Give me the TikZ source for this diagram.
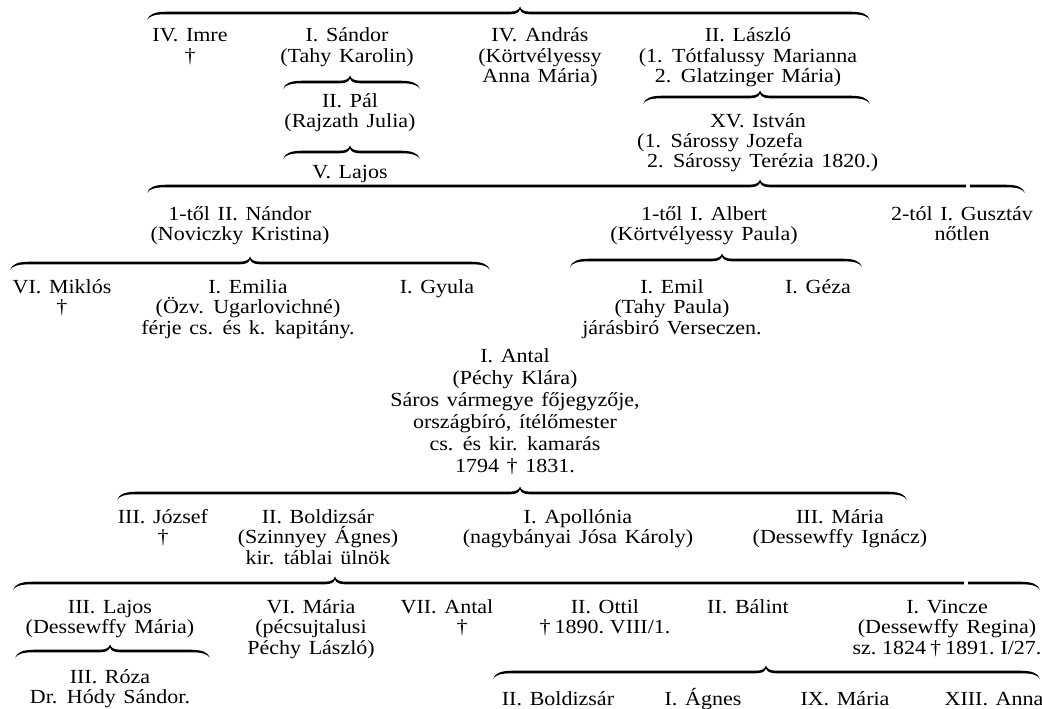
\documentclass[tikz,border=0pt]{standalone}
\usepackage{fontspec}
\setmainfont{Liberation Serif}[FakeStretch=1.1,WordSpace=1.4]

% family brace: left end, tip, right end, height of the bar
\newcommand{\famb}[4]{%
  \fill ({#1},{#4+7}) .. controls ({#1+2},{#4+1}) and ({#1+8},{#4-1.3}) .. ({#1+20},{#4-1.3})
    -- ({#2-10},{#4-1.3}) .. controls ({#2-4},{#4-1.5}) and ({#2-1},{#4-3}) .. ({#2},{#4-6.5})
    .. controls ({#2+1},{#4-3}) and ({#2+4},{#4-1.5}) .. ({#2+10},{#4-1.3})
    -- ({#3-20},{#4-1.3}) .. controls ({#3-8},{#4-1.3}) and ({#3-2},{#4+1}) .. ({#3},{#4+7})
    .. controls ({#3-3},{#4+2.2}) and ({#3-9},{#4+1.3}) .. ({#3-20},{#4+1.3})
    -- ({#2+10},{#4+1.3}) .. controls ({#2+4},{#4+1.3}) and ({#2+1},{#4-0.5}) .. ({#2},{#4-3.5})
    .. controls ({#2-1},{#4-0.5}) and ({#2-4},{#4+1.3}) .. ({#2-10},{#4+1.3})
    -- ({#1+20},{#4+1.3}) .. controls ({#1+9},{#4+1.3}) and ({#1+3},{#4+2.2}) .. ({#1},{#4+7}) -- cycle;}
% tightly set dates
\newcommand{\tight}[1]{{\spaceskip=0.2em\relax #1}}

\begin{document}
\begin{tikzpicture}[x=1pt,y=-1pt,
    person/.style={align=center,anchor=base,inner sep=0pt,font=\fontsize{20}{20.5}\selectfont},
    lines2/.style={yshift=-20.5pt},
    lines3/.style={yshift=-41pt},
    longer/.style={person,font=\fontsize{20}{22}\selectfont,yshift=-110pt}]
\useasboundingbox (0,0) rectangle (1042,709);

% first generation
\famb{147}{520}{870}{13}
\node[person,lines2] (imre) at (190,42) {IV. Imre\\†};
\node[person,lines2] (sandor) at (347,42) {I. Sándor\\(Tahy Karolin)};
\node[person,lines3] (andras) at (540,42) {IV. András\\(Körtvélyessy\\Anna Mária)};
\node[person,lines3] (laszlo) at (748,42) {II. László\\(1. Tótfalussy Marianna\\2. Glatzinger Mária)};

\famb{283}{350}{420}{82}
\node[person,lines2] (pal) at (350,107) {II. Pál\\(Rajzath Julia)};
\famb{283}{350}{420}{152}
\node[person] (lajosv) at (350,178) {V. Lajos};

\famb{643}{760}{870}{97}
\node[person] (istvan) at (758,127) {XV. István};
\node[person,lines2,align=left,anchor=base west] (istvanw) at (637,147)
    {(1. Sárossy Jozefa\\\hspace*{0.5em}2. Sárossy Terézia 1820.)};

% children of István
\famb{147}{760}{1025}{186}
\fill[white] (966,181) rectangle (970,191);
\node[person,lines2] (nandor) at (240,220) {1-től II. Nándor\\(Noviczky Kristina)};
\node[person,lines2] (albert) at (704,220) {1-től I. Albert\\(Körtvélyessy Paula)};
\node[person,lines2] (gusztav) at (962,220) {2-tól I. Gusztáv\\nőtlen};

\famb{10}{250}{490}{263}
\node[person,lines2] (miklos) at (62,293) {VI. Miklós\\†};
\node[person,lines3] (emilia) at (248,293) {I. Emilia\\(Özv. Ugarlovichné)\\férje cs. és k. kapitány.};
\node[person] (gyula) at (437,293) {I. Gyula};

\famb{570}{722}{862}{260}
\node[person,lines3] (emil) at (672,293) {I. Emil\\(Tahy Paula)\\járásbiró Verseczen.};
\node[person] (geza) at (818,293) {I. Géza};

% I. Antal and his line
\node[longer] (antal) at (515,362) {I. Antal\\(Péchy Klára)\\Sáros vármegye főjegyzője,\\országbíró, ítélőmester\\cs. és kir. kamarás\\1794 † 1831.};

\famb{117}{520}{907}{493}
\node[person,lines2] (jozsef) at (163,523) {III. József\\†};
\node[person,lines3] (boldizsar) at (318,523) {II. Boldizsár\\(Szinnyey Ágnes)\\kir. táblai ülnök};
\node[person,lines2] (apollonia) at (578,523) {I. Apollónia\\(nagybányai Jósa Károly)};
\node[person,lines2] (mariaiii) at (840,523) {III. Mária\\(Dessewffy Ignácz)};

\famb{13}{335}{1040}{583}
\fill[white] (964,578) rectangle (968,588);
\node[person,lines2] (lajosiii) at (110,613) {III. Lajos\\(Dessewffy Mária)};
\node[person,lines3] (mariavi) at (311,613) {VI. Mária\\(pécsujtalusi\\Péchy László)};
\node[person,lines2] (antalvii) at (447,613) {VII. Antal\\\hspace*{1.5em}†};
\node[person,lines2] (ottil) at (605,613) {II. Ottil\\\tight{† 1890. VIII/1.}};
\node[person] (balint) at (748,613) {II. Bálint};
\node[person,lines3] (vincze) at (947,613) {I. Vincze\\(Dessewffy Regina)\\\tight{sz. 1824 † 1891. I/27.}};

\famb{15}{110}{210}{651}
\node[person,lines2] (roza) at (110,683) {III. Róza\\Dr. Hódy Sándor.};

\famb{493}{766}{1040}{672}
\node[person] (boldizsarii) at (558,705) {II. Boldizsár};
\node[person] (agnes) at (703,705) {I. Ágnes};
\node[person] (mariaix) at (845,705) {IX. Mária};
\node[person] (anna) at (994,705) {XIII. Anna};
\end{tikzpicture}
\end{document}
